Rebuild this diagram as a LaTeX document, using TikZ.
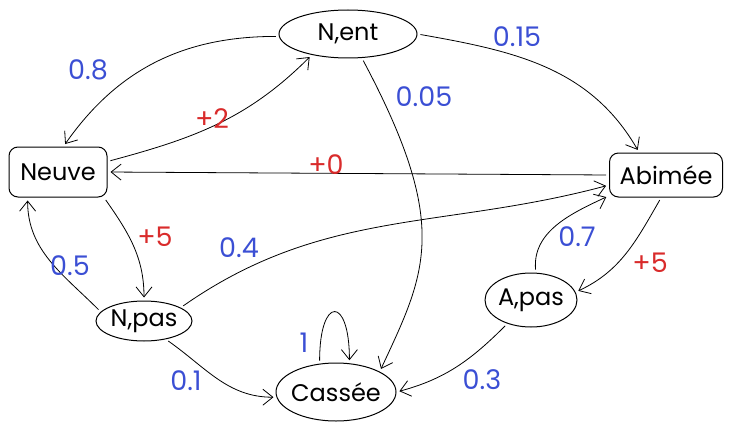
\documentclass[tikz,border=0pt]{standalone}
\usepackage{fontspec}
\setmainfont{Poppins}
\usepackage{xcolor}
\usepackage{tikz}
\usetikzlibrary{arrows.meta,positioning,shapes.geometric}
\definecolor{probblue}{HTML}{3B4FD4}
\definecolor{gainred}{HTML}{D92B2B}

\begin{document}
\begin{tikzpicture}[
  x=1pt, y=-1pt,
  state/.style={draw, line width=1pt, rounded corners=9pt, inner sep=0pt, font=\fontsize{24}{26}\selectfont},
  chance/.style={draw, ellipse, line width=1pt, inner ysep=0pt, inner xsep=-15pt, font=\fontsize{24}{26}\selectfont},
  arr/.style={-{Straight Barb[length=10pt,width=16pt]}, line width=0.8pt, shorten <=3pt, shorten >=3pt},
  prob/.style={text=probblue, font=\fontsize{27}{29}\selectfont},
  gain/.style={text=gainred, font=\fontsize{27}{29}\selectfont}
]
\useasboundingbox (0,0) rectangle (733,433);
% etats
\node[state, minimum width=98pt, minimum height=50pt] (neuve) at (58,172) {Neuve};
\node[state, minimum width=113pt, minimum height=44pt] (abimee) at (666,175) {Abimée};
\node[chance, minimum width=138pt, minimum height=48pt] (nent) at (348,34) {N,ent};
\node[chance, minimum width=96pt, minimum height=40pt] (npas) at (144,321) {N,pas};
\node[chance, minimum width=92pt, minimum height=54pt] (apas) at (531,300) {A,pas};
\node[chance, minimum width=120pt, minimum height=58pt] (cassee) at (336,392) {Cassée};
% transitions
\draw[arr] (nent.182) to[out=180,in=55] (neuve.78);
\draw[arr] (neuve.12) to[out=15,in=225] (nent.210);
\draw[arr] (nent.east) to[out=-10,in=120] (abimee.140);
\draw[arr] (nent.300) .. controls +(-62:190pt) and +(65:110pt) .. (cassee.25);
\draw[arr] (abimee.west) -- (neuve.east);
\draw[arr] (neuve.331) to[out=-55,in=90] (npas.north);
\draw[arr] (npas.168) to[out=135,in=-90] (neuve.220);
\draw[arr] (npas.20) to[out=35,in=195] (abimee.190);
\draw[arr] (npas.320) to[out=-35,in=180] (cassee.185);
\draw[arr] (cassee.120) .. controls +(90:68pt) and +(90:68pt) .. (cassee.65);
\draw[arr] (apas.80) to[out=95,in=205] (abimee.200);
\draw[arr] (abimee.258) to[out=240,in=25] (apas.10);
\draw[arr] (apas.225) to[out=225,in=15] (cassee.east);
% etiquettes
\node[prob] (p08) at (88,70) {0.8};
\node[gain] (r2) at (212,119) {+2};
\node[prob] (p005) at (424,97) {0.05};
\node[prob] (p015) at (517,37) {0.15};
\node[gain] (r0) at (326,165) {+0};
\node[gain] (r5n) at (155,237) {+5};
\node[prob] (p05) at (70,266) {0.5};
\node[prob] (p04) at (239,248) {0.4};
\node[prob] (p01) at (186,381) {0.1};
\node[prob] (p1) at (304,343) {1};
\node[prob] (p07) at (577,237) {0.7};
\node[gain] (r5a) at (650,263) {+5};
\node[prob] (p03) at (482,380) {0.3};
\end{tikzpicture}
\end{document}
